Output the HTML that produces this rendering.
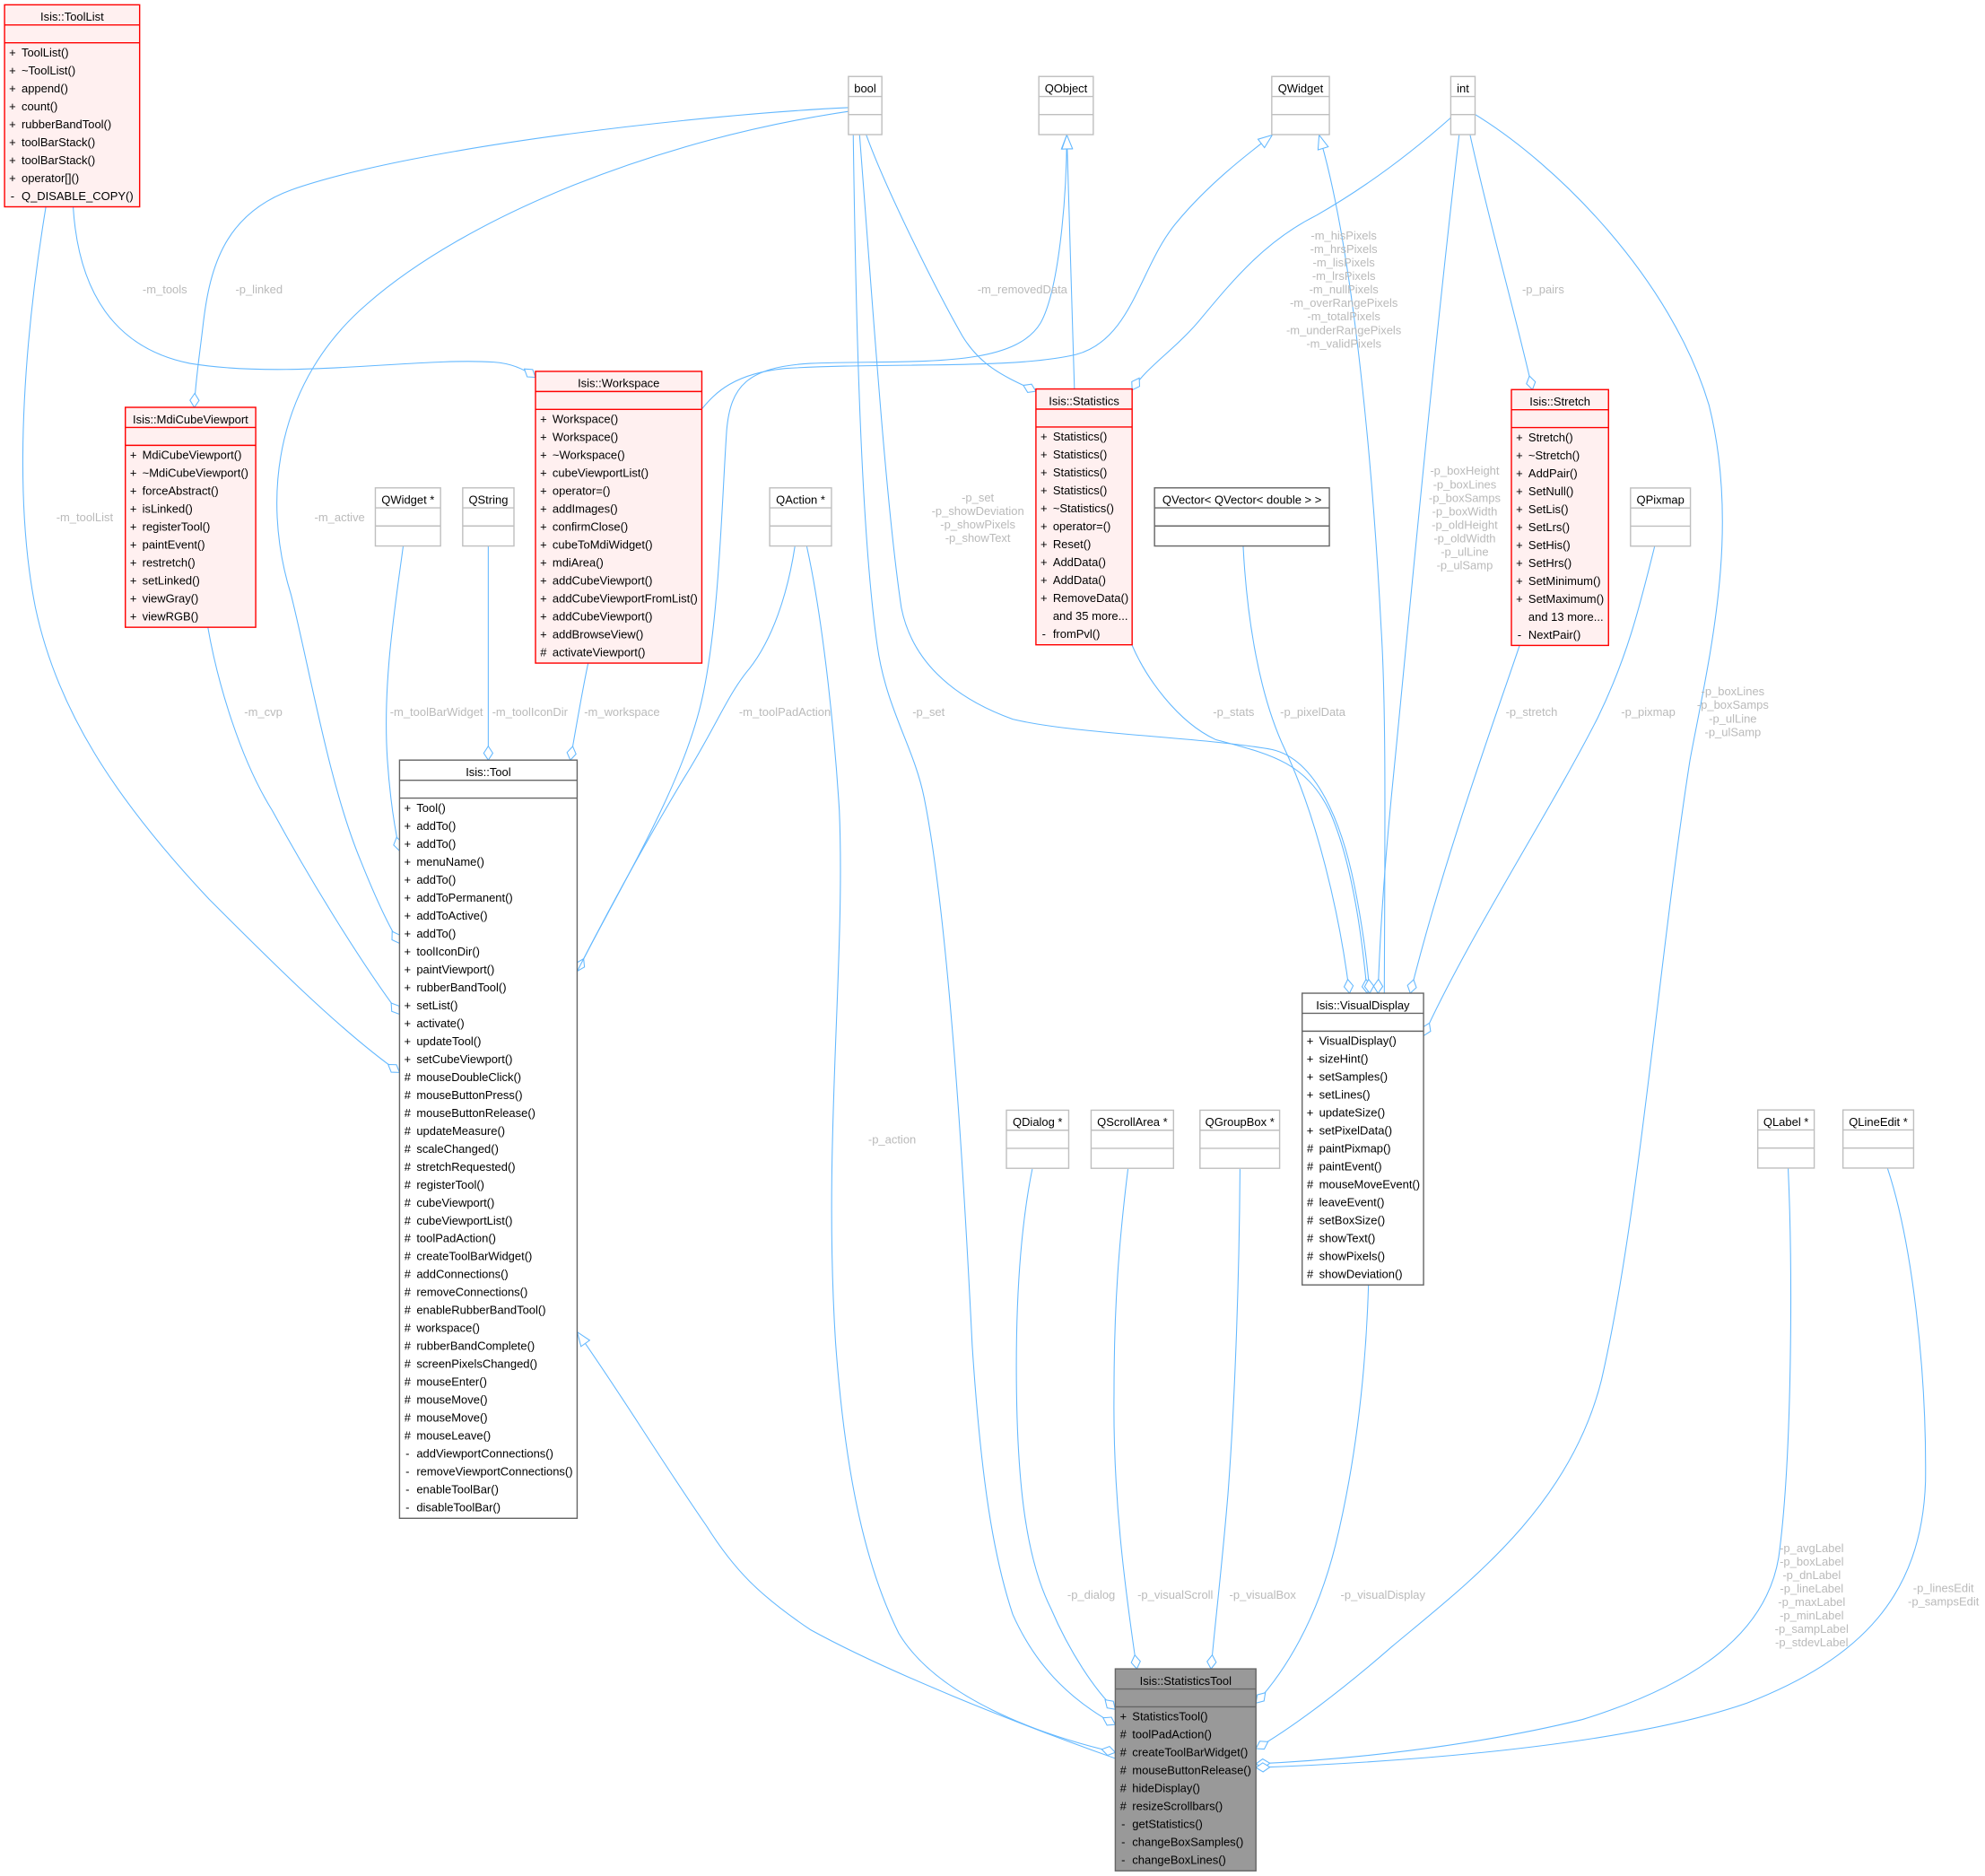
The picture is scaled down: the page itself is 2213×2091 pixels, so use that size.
<!DOCTYPE html>
<html><head><meta charset="utf-8"><style>
html,body{margin:0;padding:0;background:#fff;}
svg{display:block;}
.t{font-family:"Liberation Sans",Arial,sans-serif;font-size:9.2px;fill:#000;}
.l{font-family:"Liberation Sans",Arial,sans-serif;font-size:9.2px;fill:#bababa;text-anchor:middle;}
.c{text-anchor:middle;}
.rb{fill:#FFF0F0;stroke:#ff0000;stroke-width:1;}
.rs{fill:none;stroke:#ff0000;stroke-width:1;}
.gb{fill:#fff;stroke:#bfbfbf;stroke-width:1;}
.gs{fill:none;stroke:#bfbfbf;stroke-width:1;}
.db{fill:#fff;stroke:#666;stroke-width:1;}
.ds{fill:none;stroke:#666;stroke-width:1;}
.sb{fill:#999;stroke:#666;stroke-width:1;}
</style></head><body>
<svg xmlns="http://www.w3.org/2000/svg" width="2213" height="2091" viewBox="0 0 1568 1481.6" preserveAspectRatio="none">
<defs>
<marker id="d" markerUnits="userSpaceOnUse" markerWidth="14" markerHeight="10" refX="0" refY="0" orient="auto" overflow="visible"><path d="M0,0 L-5.5,-3.6 L-11,0 L-5.5,3.6 Z" fill="#fff" stroke="#63B8FF" stroke-width="0.75"/></marker>
<marker id="tr" markerUnits="userSpaceOnUse" markerWidth="14" markerHeight="10" refX="0" refY="0" orient="auto" overflow="visible"><path d="M0,0 L-11,-4.2 L-11,4.2 Z" fill="#fff" stroke="#63B8FF" stroke-width="0.75"/></marker>
</defs>
<rect x="0" y="0" width="1568" height="1481.6" fill="#fff"/>

<!-- EDGES -->
<g fill="none" stroke="#63B8FF" stroke-width="0.75">
<path marker-end="url(#d)" d="M57.8,163.6 C62,230 90,275 150,287 C230,300 330,282 390,286 C405,287 415,292 423,298"/>
<path marker-end="url(#d)" d="M670.2,85 C560,90 330,115 230,150 C175,170 165,215 160,260 C157,285 154,305 153.5,321.7"/>
<path marker-end="url(#d)" d="M670.2,88 C520,110 370,170 290,240 C220,300 205,390 230,470 C245,530 260,620 285,680 C295,705 305,728 315.6,745"/>
<path marker-end="url(#d)" d="M36.2,163.6 C22,250 8,380 28,480 C45,560 90,630 165,710 C215,760 270,815 315.6,847"/>
<path marker-end="url(#d)" d="M164.2,495.4 C172,540 190,600 215,640 C245,695 285,760 315.6,801"/>
<path marker-end="url(#d)" d="M318.5,431.2 C312,480 302,540 306,600 C308,630 312,655 315.6,672"/>
<path marker-end="url(#d)" d="M385.7,431.2 L385.7,600.3"/>
<path marker-end="url(#d)" d="M464.6,523.7 C460,545 455,575 450.5,600.3"/>
<path marker-end="url(#d)" d="M627.9,431.6 C622,470 610,505 592,528 C575,548 565,575 540,615 C510,665 480,720 456,767"/>
<path marker-end="url(#tr)" d="M456,767 C490,700 540,620 555,550 C568,490 570,400 574,340 C577,305 590,290 640,287 C720,284 800,292 822,255 C836,230 842.5,160 842.7,106.6"/>
<path marker-end="url(#tr)" d="M848.7,307.2 L842.7,106.6"/>
<path marker-end="url(#tr)" d="M554.4,323 C565,310 580,295 620,291 C700,286 800,292 850,280 C895,268 900,210 930,175 C955,145 985,122 1005,106.6"/>
<path marker-end="url(#d)" d="M684.3,106.6 C700,150 740,230 760,265 C775,290 795,298 818.3,309"/>
<path marker-end="url(#d)" d="M1146,93 C1110,125 1075,150 1040,170 C1000,190 975,220 950,250 C930,275 905,290 894.3,308"/>
<path marker-end="url(#d)" d="M1161.3,106.7 C1175,170 1200,260 1210.5,307.7"/>
<path marker-end="url(#d)" d="M1152.6,106.7 C1130,300 1110,520 1100,620 C1093,690 1090,740 1088.5,784.4"/>
<path marker-end="url(#tr)" d="M1093.5,784.4 C1094,650 1095,560 1091,496 C1085,380 1070,200 1042,106.6"/>
<path marker-end="url(#d)" d="M1165.2,90.4 C1230,130 1320,220 1350,320 C1375,420 1350,520 1335,600 C1310,760 1295,960 1265,1090 C1240,1190 1160,1250 1100,1300 C1060,1335 1020,1365 992.1,1381"/>
<path marker-end="url(#d)" d="M1200.4,509.7 C1180,570 1140,680 1114,784.4"/>
<path marker-end="url(#d)" d="M1307,431.7 C1295,480 1285,520 1262,567 C1225,640 1160,740 1124.5,818"/>
<path marker-end="url(#d)" d="M894,509 C905,535 930,570 960,584 C1000,595 1030,600 1050,640 C1068,680 1076,740 1080,784.4"/>
<path marker-end="url(#d)" d="M982,431.2 C985,490 995,550 1015,592 C1040,645 1058,720 1066,784.4"/>
<path marker-end="url(#d)" d="M679,106.6 C690,250 700,400 712,480 C720,520 750,550 800,568 C850,580 950,582 1005,592 C1040,600 1060,650 1070,700 C1077,735 1080,760 1082,784.4"/>
<path marker-end="url(#d)" d="M674,106.6 C676,250 680,420 693,510 C700,560 722,590 730,630 C748,720 760,900 768,1063 C775,1170 785,1230 800,1275 C820,1320 850,1345 881,1362"/>
<path marker-end="url(#d)" d="M637.3,431.6 C648,480 658,560 663,640 C668,760 650,900 660,1060 C668,1170 685,1240 710,1290 C740,1340 820,1370 881,1384"/>
<path marker-end="url(#tr)" d="M881.7,1389 C800,1360 700,1320 640,1287 C600,1260 580,1240 558,1205 C520,1150 490,1100 456,1052"/>
<path marker-end="url(#d)" d="M815.4,923.3 C806,970 802,1030 803,1100 C804,1170 810,1230 830,1270 C845,1305 865,1335 881,1350"/>
<path marker-end="url(#d)" d="M891,923.3 C884,980 880,1030 880,1100 C879,1180 888,1250 898,1318"/>
<path marker-end="url(#d)" d="M979.5,923.3 C979,1000 976,1100 970,1180 C965,1240 960,1280 956.6,1318"/>
<path marker-end="url(#d)" d="M1081,1014.8 C1079,1080 1072,1150 1055,1220 C1040,1280 1015,1320 992.1,1345"/>
<path marker-end="url(#d)" d="M1412.5,922.7 C1416,1000 1416,1150 1405,1230 C1395,1290 1340,1330 1250,1358 C1160,1380 1060,1390 992.1,1393"/>
<path marker-end="url(#d)" d="M1491,922.7 C1510,980 1522,1080 1521,1170 C1518,1260 1470,1310 1380,1345 C1280,1380 1100,1392 992.1,1396"/>
</g>

<!-- EDGE LABELS -->
<g>
<text class="l" x="130.2" y="231.7">-m_tools</text>
<text class="l" x="204.6" y="231.7">-p_linked</text>
<text class="l" x="807.6" y="231.7">-m_removedData</text>
<text class="l" x="1219" y="231.8">-p_pairs</text>
<text class="l"><tspan x="1061.5" y="189.3">-m_hisPixels</tspan><tspan x="1061.5" dy="10.64">-m_hrsPixels</tspan><tspan x="1061.5" dy="10.64">-m_lisPixels</tspan><tspan x="1061.5" dy="10.64">-m_lrsPixels</tspan><tspan x="1061.5" dy="10.64">-m_nullPixels</tspan><tspan x="1061.5" dy="10.64">-m_overRangePixels</tspan><tspan x="1061.5" dy="10.64">-m_totalPixels</tspan><tspan x="1061.5" dy="10.64">-m_underRangePixels</tspan><tspan x="1061.5" dy="10.64">-m_validPixels</tspan></text>
<text class="l" x="66.9" y="411.7">-m_toolList</text>
<text class="l" x="268.3" y="411.7">-m_active</text>
<text class="l"><tspan x="772.4" y="396.2">-p_set</tspan><tspan x="772.4" dy="10.64">-p_showDeviation</tspan><tspan x="772.4" dy="10.64">-p_showPixels</tspan><tspan x="772.4" dy="10.64">-p_showText</tspan></text>
<text class="l"><tspan x="1157" y="375">-p_boxHeight</tspan><tspan x="1157" dy="10.64">-p_boxLines</tspan><tspan x="1157" dy="10.64">-p_boxSamps</tspan><tspan x="1157" dy="10.64">-p_boxWidth</tspan><tspan x="1157" dy="10.64">-p_oldHeight</tspan><tspan x="1157" dy="10.64">-p_oldWidth</tspan><tspan x="1157" dy="10.64">-p_ulLine</tspan><tspan x="1157" dy="10.64">-p_ulSamp</tspan></text>
<text class="l"><tspan x="1368.8" y="549.3">-p_boxLines</tspan><tspan x="1368.8" dy="10.64">-p_boxSamps</tspan><tspan x="1368.8" dy="10.64">-p_ulLine</tspan><tspan x="1368.8" dy="10.64">-p_ulSamp</tspan></text>
<text class="l" x="208" y="565.6">-m_cvp</text>
<text class="l" x="344.8" y="565.6">-m_toolBarWidget</text>
<text class="l" x="418.6" y="565.6">-m_toolIconDir</text>
<text class="l" x="491.3" y="565.6">-m_workspace</text>
<text class="l" x="620" y="565.6">-m_toolPadAction</text>
<text class="l" x="733.5" y="565.6">-p_set</text>
<text class="l" x="974.5" y="565.6">-p_stats</text>
<text class="l" x="1037" y="565.6">-p_pixelData</text>
<text class="l" x="1209.8" y="565.6">-p_stretch</text>
<text class="l" x="1302" y="565.6">-p_pixmap</text>
<text class="l" x="704.7" y="902.9">-p_action</text>
<text class="l" x="862" y="1262.6">-p_dialog</text>
<text class="l" x="928.4" y="1262.6">-p_visualScroll</text>
<text class="l" x="997.4" y="1262.6">-p_visualBox</text>
<text class="l" x="1092.4" y="1262.6">-p_visualDisplay</text>
<text class="l"><tspan x="1431.1" y="1225.9">-p_avgLabel</tspan><tspan x="1431.1" dy="10.6">-p_boxLabel</tspan><tspan x="1431.1" dy="10.6">-p_dnLabel</tspan><tspan x="1431.1" dy="10.6">-p_lineLabel</tspan><tspan x="1431.1" dy="10.6">-p_maxLabel</tspan><tspan x="1431.1" dy="10.6">-p_minLabel</tspan><tspan x="1431.1" dy="10.6">-p_sampLabel</tspan><tspan x="1431.1" dy="10.6">-p_stdevLabel</tspan></text>
<text class="l"><tspan x="1535.2" y="1257.4">-p_linesEdit</tspan><tspan x="1535.2" dy="10.7">-p_sampsEdit</tspan></text>
</g>

<!-- SMALL TYPE BOXES -->
<g transform="translate(670.2,60.4)"><rect class="gb" width="26.4" height="45.9"/><path class="gs" d="M0,15.8H26.4M0,30.1H26.4"/><text class="t c" x="13.2" y="12.5">bool</text></g>
<g transform="translate(820.6,60.4)"><rect class="gb" width="43" height="45.9"/><path class="gs" d="M0,15.8H43M0,30.1H43"/><text class="t c" x="21.5" y="12.5">QObject</text></g>
<g transform="translate(1004.6,60.4)"><rect class="gb" width="45.5" height="45.9"/><path class="gs" d="M0,15.8H45.5M0,30.1H45.5"/><text class="t c" x="22.75" y="12.5">QWidget</text></g>
<g transform="translate(1146,60.4)"><rect class="gb" width="19.2" height="45.9"/><path class="gs" d="M0,15.8H19.2M0,30.1H19.2"/><text class="t c" x="9.6" y="12.5">int</text></g>
<g transform="translate(296.5,385.3)"><rect class="gb" width="51.5" height="45.9"/><path class="gs" d="M0,15.8H51.5M0,30.1H51.5"/><text class="t c" x="25.75" y="12.5">QWidget *</text></g>
<g transform="translate(365.5,385.3)"><rect class="gb" width="40.5" height="45.9"/><path class="gs" d="M0,15.8H40.5M0,30.1H40.5"/><text class="t c" x="20.25" y="12.5">QString</text></g>
<g transform="translate(608,385.3)"><rect class="gb" width="48.8" height="45.9"/><path class="gs" d="M0,15.8H48.8M0,30.1H48.8"/><text class="t c" x="24.4" y="12.5">QAction *</text></g>
<g transform="translate(912,385.3)"><rect class="db" width="138.1" height="45.9"/><path class="ds" d="M0,15.8H138.1M0,30.1H138.1"/><text class="t c" x="69.05" y="12.5">QVector&lt; QVector&lt; double &gt; &gt;</text></g>
<g transform="translate(1288,385.4)"><rect class="gb" width="47.3" height="45.9"/><path class="gs" d="M0,15.8H47.3M0,30.1H47.3"/><text class="t c" x="23.65" y="12.5">QPixmap</text></g>
<g transform="translate(795,876.8)"><rect class="gb" width="49.2" height="45.9"/><path class="gs" d="M0,15.8H49.2M0,30.1H49.2"/><text class="t c" x="24.6" y="12.5">QDialog *</text></g>
<g transform="translate(861.9,876.8)"><rect class="gb" width="65.1" height="45.9"/><path class="gs" d="M0,15.8H65.1M0,30.1H65.1"/><text class="t c" x="32.55" y="12.5">QScrollArea *</text></g>
<g transform="translate(947.9,876.8)"><rect class="gb" width="62.9" height="45.9"/><path class="gs" d="M0,15.8H62.9M0,30.1H62.9"/><text class="t c" x="31.45" y="12.5">QGroupBox *</text></g>
<g transform="translate(1388.5,876.6)"><rect class="gb" width="44.6" height="45.9"/><path class="gs" d="M0,15.8H44.6M0,30.1H44.6"/><text class="t c" x="22.3" y="12.5">QLabel *</text></g>
<g transform="translate(1455.8,876.6)"><rect class="gb" width="55.8" height="45.9"/><path class="gs" d="M0,15.8H55.8M0,30.1H55.8"/><text class="t c" x="27.9" y="12.5">QLineEdit *</text></g>

<!-- Isis::ToolList -->
<g transform="translate(3.6,3.8)">
<rect class="rb" width="106.7" height="159.53"/><path class="rs" d="M0,15.9H106.7M0,30H106.7"/>
<text class="t c" x="53.35" y="12.6">Isis::ToolList</text>
<text class="t c"><tspan x="6.3" y="40.8">+</tspan><tspan x="6.3" dy="14.17">+</tspan><tspan x="6.3" dy="14.17">+</tspan><tspan x="6.3" dy="14.17">+</tspan><tspan x="6.3" dy="14.17">+</tspan><tspan x="6.3" dy="14.17">+</tspan><tspan x="6.3" dy="14.17">+</tspan><tspan x="6.3" dy="14.17">+</tspan><tspan x="6.3" dy="14.17">-</tspan></text>
<text class="t"><tspan x="13.4" y="40.8">ToolList()</tspan><tspan x="13.4" dy="14.17">~ToolList()</tspan><tspan x="13.4" dy="14.17">append()</tspan><tspan x="13.4" dy="14.17">count()</tspan><tspan x="13.4" dy="14.17">rubberBandTool()</tspan><tspan x="13.4" dy="14.17">toolBarStack()</tspan><tspan x="13.4" dy="14.17">toolBarStack()</tspan><tspan x="13.4" dy="14.17">operator[]()</tspan><tspan x="13.4" dy="14.17">Q_DISABLE_COPY()</tspan></text>
</g>

<!-- Isis::MdiCubeViewport -->
<g transform="translate(99,321.7)">
<rect class="rb" width="103" height="173.7"/><path class="rs" d="M0,15.9H103M0,30H103"/>
<text class="t c" x="51.5" y="12.6">Isis::MdiCubeViewport</text>
<text class="t c"><tspan x="6.3" y="40.8">+</tspan><tspan x="6.3" dy="14.17">+</tspan><tspan x="6.3" dy="14.17">+</tspan><tspan x="6.3" dy="14.17">+</tspan><tspan x="6.3" dy="14.17">+</tspan><tspan x="6.3" dy="14.17">+</tspan><tspan x="6.3" dy="14.17">+</tspan><tspan x="6.3" dy="14.17">+</tspan><tspan x="6.3" dy="14.17">+</tspan><tspan x="6.3" dy="14.17">+</tspan></text>
<text class="t"><tspan x="13.4" y="40.8">MdiCubeViewport()</tspan><tspan x="13.4" dy="14.17">~MdiCubeViewport()</tspan><tspan x="13.4" dy="14.17">forceAbstract()</tspan><tspan x="13.4" dy="14.17">isLinked()</tspan><tspan x="13.4" dy="14.17">registerTool()</tspan><tspan x="13.4" dy="14.17">paintEvent()</tspan><tspan x="13.4" dy="14.17">restretch()</tspan><tspan x="13.4" dy="14.17">setLinked()</tspan><tspan x="13.4" dy="14.17">viewGray()</tspan><tspan x="13.4" dy="14.17">viewRGB()</tspan></text>
</g>

<!-- Isis::Workspace -->
<g transform="translate(423,293.3)">
<rect class="rb" width="131.4" height="230.38"/><path class="rs" d="M0,15.9H131.4M0,30H131.4"/>
<text class="t c" x="65.7" y="12.6">Isis::Workspace</text>
<text class="t c"><tspan x="6.3" y="40.8">+</tspan><tspan x="6.3" dy="14.17">+</tspan><tspan x="6.3" dy="14.17">+</tspan><tspan x="6.3" dy="14.17">+</tspan><tspan x="6.3" dy="14.17">+</tspan><tspan x="6.3" dy="14.17">+</tspan><tspan x="6.3" dy="14.17">+</tspan><tspan x="6.3" dy="14.17">+</tspan><tspan x="6.3" dy="14.17">+</tspan><tspan x="6.3" dy="14.17">+</tspan><tspan x="6.3" dy="14.17">+</tspan><tspan x="6.3" dy="14.17">+</tspan><tspan x="6.3" dy="14.17">+</tspan><tspan x="6.3" dy="14.17">#</tspan></text>
<text class="t"><tspan x="13.4" y="40.8">Workspace()</tspan><tspan x="13.4" dy="14.17">Workspace()</tspan><tspan x="13.4" dy="14.17">~Workspace()</tspan><tspan x="13.4" dy="14.17">cubeViewportList()</tspan><tspan x="13.4" dy="14.17">operator=()</tspan><tspan x="13.4" dy="14.17">addImages()</tspan><tspan x="13.4" dy="14.17">confirmClose()</tspan><tspan x="13.4" dy="14.17">cubeToMdiWidget()</tspan><tspan x="13.4" dy="14.17">mdiArea()</tspan><tspan x="13.4" dy="14.17">addCubeViewport()</tspan><tspan x="13.4" dy="14.17">addCubeViewportFromList()</tspan><tspan x="13.4" dy="14.17">addCubeViewport()</tspan><tspan x="13.4" dy="14.17">addBrowseView()</tspan><tspan x="13.4" dy="14.17">activateViewport()</tspan></text>
</g>

<!-- Isis::Statistics -->
<g transform="translate(818.3,307.2)">
<rect class="rb" width="76" height="202.04"/><path class="rs" d="M0,15.9H76M0,30H76"/>
<text class="t c" x="38" y="12.6">Isis::Statistics</text>
<text class="t c"><tspan x="6.3" y="40.8">+</tspan><tspan x="6.3" dy="14.17">+</tspan><tspan x="6.3" dy="14.17">+</tspan><tspan x="6.3" dy="14.17">+</tspan><tspan x="6.3" dy="14.17">+</tspan><tspan x="6.3" dy="14.17">+</tspan><tspan x="6.3" dy="14.17">+</tspan><tspan x="6.3" dy="14.17">+</tspan><tspan x="6.3" dy="14.17">+</tspan><tspan x="6.3" dy="14.17">+</tspan><tspan x="6.3" dy="28.34">-</tspan></text>
<text class="t"><tspan x="13.4" y="40.8">Statistics()</tspan><tspan x="13.4" dy="14.17">Statistics()</tspan><tspan x="13.4" dy="14.17">Statistics()</tspan><tspan x="13.4" dy="14.17">Statistics()</tspan><tspan x="13.4" dy="14.17">~Statistics()</tspan><tspan x="13.4" dy="14.17">operator=()</tspan><tspan x="13.4" dy="14.17">Reset()</tspan><tspan x="13.4" dy="14.17">AddData()</tspan><tspan x="13.4" dy="14.17">AddData()</tspan><tspan x="13.4" dy="14.17">RemoveData()</tspan><tspan x="13.4" dy="14.17">and 35 more...</tspan><tspan x="13.4" dy="14.17">fromPvl()</tspan></text>
</g>

<!-- Isis::Stretch -->
<g transform="translate(1193.9,307.7)">
<rect class="rb" width="76.7" height="202.04"/><path class="rs" d="M0,15.9H76.7M0,30H76.7"/>
<text class="t c" x="38.35" y="12.6">Isis::Stretch</text>
<text class="t c"><tspan x="6.3" y="40.8">+</tspan><tspan x="6.3" dy="14.17">+</tspan><tspan x="6.3" dy="14.17">+</tspan><tspan x="6.3" dy="14.17">+</tspan><tspan x="6.3" dy="14.17">+</tspan><tspan x="6.3" dy="14.17">+</tspan><tspan x="6.3" dy="14.17">+</tspan><tspan x="6.3" dy="14.17">+</tspan><tspan x="6.3" dy="14.17">+</tspan><tspan x="6.3" dy="14.17">+</tspan><tspan x="6.3" dy="28.34">-</tspan></text>
<text class="t"><tspan x="13.4" y="40.8">Stretch()</tspan><tspan x="13.4" dy="14.17">~Stretch()</tspan><tspan x="13.4" dy="14.17">AddPair()</tspan><tspan x="13.4" dy="14.17">SetNull()</tspan><tspan x="13.4" dy="14.17">SetLis()</tspan><tspan x="13.4" dy="14.17">SetLrs()</tspan><tspan x="13.4" dy="14.17">SetHis()</tspan><tspan x="13.4" dy="14.17">SetHrs()</tspan><tspan x="13.4" dy="14.17">SetMinimum()</tspan><tspan x="13.4" dy="14.17">SetMaximum()</tspan><tspan x="13.4" dy="14.17">and 13 more...</tspan><tspan x="13.4" dy="14.17">NextPair()</tspan></text>
</g>

<!-- Isis::Tool -->
<g transform="translate(315.6,600.3)">
<rect class="db" width="140.3" height="598.8"/><path class="ds" d="M0,15.9H140.3M0,30H140.3"/>
<text class="t c" x="70.15" y="12.6">Isis::Tool</text>
<text class="t c"><tspan x="6.3" y="40.8">+</tspan><tspan x="6.3" dy="14.17">+</tspan><tspan x="6.3" dy="14.17">+</tspan><tspan x="6.3" dy="14.17">+</tspan><tspan x="6.3" dy="14.17">+</tspan><tspan x="6.3" dy="14.17">+</tspan><tspan x="6.3" dy="14.17">+</tspan><tspan x="6.3" dy="14.17">+</tspan><tspan x="6.3" dy="14.17">+</tspan><tspan x="6.3" dy="14.17">+</tspan><tspan x="6.3" dy="14.17">+</tspan><tspan x="6.3" dy="14.17">+</tspan><tspan x="6.3" dy="14.17">+</tspan><tspan x="6.3" dy="14.17">+</tspan><tspan x="6.3" dy="14.17">+</tspan><tspan x="6.3" dy="14.17">#</tspan><tspan x="6.3" dy="14.17">#</tspan><tspan x="6.3" dy="14.17">#</tspan><tspan x="6.3" dy="14.17">#</tspan><tspan x="6.3" dy="14.17">#</tspan><tspan x="6.3" dy="14.17">#</tspan><tspan x="6.3" dy="14.17">#</tspan><tspan x="6.3" dy="14.17">#</tspan><tspan x="6.3" dy="14.17">#</tspan><tspan x="6.3" dy="14.17">#</tspan><tspan x="6.3" dy="14.17">#</tspan><tspan x="6.3" dy="14.17">#</tspan><tspan x="6.3" dy="14.17">#</tspan><tspan x="6.3" dy="14.17">#</tspan><tspan x="6.3" dy="14.17">#</tspan><tspan x="6.3" dy="14.17">#</tspan><tspan x="6.3" dy="14.17">#</tspan><tspan x="6.3" dy="14.17">#</tspan><tspan x="6.3" dy="14.17">#</tspan><tspan x="6.3" dy="14.17">#</tspan><tspan x="6.3" dy="14.17">#</tspan><tspan x="6.3" dy="14.17">-</tspan><tspan x="6.3" dy="14.17">-</tspan><tspan x="6.3" dy="14.17">-</tspan><tspan x="6.3" dy="14.17">-</tspan></text>
<text class="t"><tspan x="13.4" y="40.8">Tool()</tspan><tspan x="13.4" dy="14.17">addTo()</tspan><tspan x="13.4" dy="14.17">addTo()</tspan><tspan x="13.4" dy="14.17">menuName()</tspan><tspan x="13.4" dy="14.17">addTo()</tspan><tspan x="13.4" dy="14.17">addToPermanent()</tspan><tspan x="13.4" dy="14.17">addToActive()</tspan><tspan x="13.4" dy="14.17">addTo()</tspan><tspan x="13.4" dy="14.17">toolIconDir()</tspan><tspan x="13.4" dy="14.17">paintViewport()</tspan><tspan x="13.4" dy="14.17">rubberBandTool()</tspan><tspan x="13.4" dy="14.17">setList()</tspan><tspan x="13.4" dy="14.17">activate()</tspan><tspan x="13.4" dy="14.17">updateTool()</tspan><tspan x="13.4" dy="14.17">setCubeViewport()</tspan><tspan x="13.4" dy="14.17">mouseDoubleClick()</tspan><tspan x="13.4" dy="14.17">mouseButtonPress()</tspan><tspan x="13.4" dy="14.17">mouseButtonRelease()</tspan><tspan x="13.4" dy="14.17">updateMeasure()</tspan><tspan x="13.4" dy="14.17">scaleChanged()</tspan><tspan x="13.4" dy="14.17">stretchRequested()</tspan><tspan x="13.4" dy="14.17">registerTool()</tspan><tspan x="13.4" dy="14.17">cubeViewport()</tspan><tspan x="13.4" dy="14.17">cubeViewportList()</tspan><tspan x="13.4" dy="14.17">toolPadAction()</tspan><tspan x="13.4" dy="14.17">createToolBarWidget()</tspan><tspan x="13.4" dy="14.17">addConnections()</tspan><tspan x="13.4" dy="14.17">removeConnections()</tspan><tspan x="13.4" dy="14.17">enableRubberBandTool()</tspan><tspan x="13.4" dy="14.17">workspace()</tspan><tspan x="13.4" dy="14.17">rubberBandComplete()</tspan><tspan x="13.4" dy="14.17">screenPixelsChanged()</tspan><tspan x="13.4" dy="14.17">mouseEnter()</tspan><tspan x="13.4" dy="14.17">mouseMove()</tspan><tspan x="13.4" dy="14.17">mouseMove()</tspan><tspan x="13.4" dy="14.17">mouseLeave()</tspan><tspan x="13.4" dy="14.17">addViewportConnections()</tspan><tspan x="13.4" dy="14.17">removeViewportConnections()</tspan><tspan x="13.4" dy="14.17">enableToolBar()</tspan><tspan x="13.4" dy="14.17">disableToolBar()</tspan></text>
</g>

<!-- Isis::VisualDisplay -->
<g transform="translate(1028.6,784.4)">
<rect class="db" width="95.9" height="230.38"/><path class="ds" d="M0,15.9H95.9M0,30H95.9"/>
<text class="t c" x="47.95" y="12.6">Isis::VisualDisplay</text>
<text class="t c"><tspan x="6.3" y="40.8">+</tspan><tspan x="6.3" dy="14.17">+</tspan><tspan x="6.3" dy="14.17">+</tspan><tspan x="6.3" dy="14.17">+</tspan><tspan x="6.3" dy="14.17">+</tspan><tspan x="6.3" dy="14.17">+</tspan><tspan x="6.3" dy="14.17">#</tspan><tspan x="6.3" dy="14.17">#</tspan><tspan x="6.3" dy="14.17">#</tspan><tspan x="6.3" dy="14.17">#</tspan><tspan x="6.3" dy="14.17">#</tspan><tspan x="6.3" dy="14.17">#</tspan><tspan x="6.3" dy="14.17">#</tspan><tspan x="6.3" dy="14.17">#</tspan></text>
<text class="t"><tspan x="13.4" y="40.8">VisualDisplay()</tspan><tspan x="13.4" dy="14.17">sizeHint()</tspan><tspan x="13.4" dy="14.17">setSamples()</tspan><tspan x="13.4" dy="14.17">setLines()</tspan><tspan x="13.4" dy="14.17">updateSize()</tspan><tspan x="13.4" dy="14.17">setPixelData()</tspan><tspan x="13.4" dy="14.17">paintPixmap()</tspan><tspan x="13.4" dy="14.17">paintEvent()</tspan><tspan x="13.4" dy="14.17">mouseMoveEvent()</tspan><tspan x="13.4" dy="14.17">leaveEvent()</tspan><tspan x="13.4" dy="14.17">setBoxSize()</tspan><tspan x="13.4" dy="14.17">showText()</tspan><tspan x="13.4" dy="14.17">showPixels()</tspan><tspan x="13.4" dy="14.17">showDeviation()</tspan></text>
</g>

<!-- Isis::StatisticsTool -->
<g transform="translate(881,1318)">
<rect class="sb" width="111.1" height="159.53"/><path class="ds" d="M0,15.9H111.1M0,30H111.1"/>
<text class="t c" x="55.55" y="12.6">Isis::StatisticsTool</text>
<text class="t c"><tspan x="6.3" y="40.8">+</tspan><tspan x="6.3" dy="14.17">#</tspan><tspan x="6.3" dy="14.17">#</tspan><tspan x="6.3" dy="14.17">#</tspan><tspan x="6.3" dy="14.17">#</tspan><tspan x="6.3" dy="14.17">#</tspan><tspan x="6.3" dy="14.17">-</tspan><tspan x="6.3" dy="14.17">-</tspan><tspan x="6.3" dy="14.17">-</tspan></text>
<text class="t"><tspan x="13.4" y="40.8">StatisticsTool()</tspan><tspan x="13.4" dy="14.17">toolPadAction()</tspan><tspan x="13.4" dy="14.17">createToolBarWidget()</tspan><tspan x="13.4" dy="14.17">mouseButtonRelease()</tspan><tspan x="13.4" dy="14.17">hideDisplay()</tspan><tspan x="13.4" dy="14.17">resizeScrollbars()</tspan><tspan x="13.4" dy="14.17">getStatistics()</tspan><tspan x="13.4" dy="14.17">changeBoxSamples()</tspan><tspan x="13.4" dy="14.17">changeBoxLines()</tspan></text>
</g>
</svg>
</body></html>
